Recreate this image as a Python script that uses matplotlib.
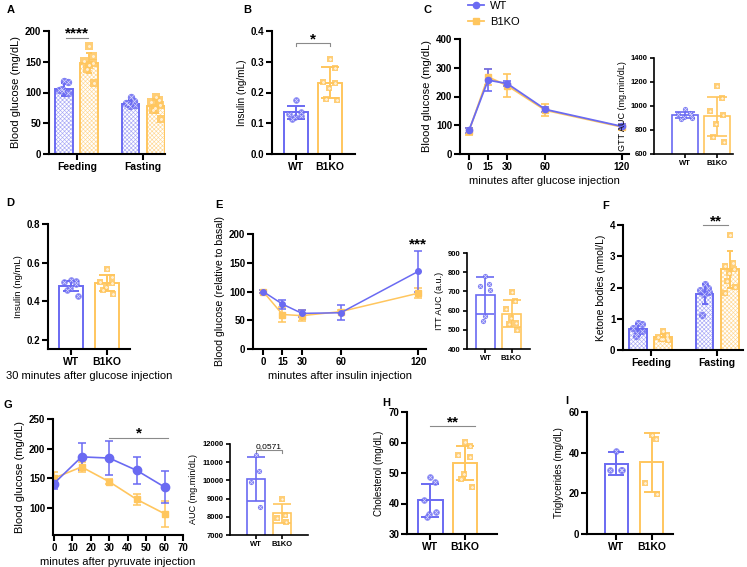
import numpy as np
import matplotlib.pyplot as plt
from matplotlib.lines import Line2D

plt.rcParams['font.family'] = ['Liberation Sans', 'DejaVu Sans']
plt.rcParams['font.weight'] = 'bold'
plt.rcParams['hatch.linewidth'] = 0.45

W, H = 747, 567
BLUE = '#6a6af2'
ORANGE = '#ffc65e'
BLUE_L = '#a9a9f6'
ORANGE_L = '#ffd894'

# ---- data ----
# A: blood glucose, feeding / fasting
a_groups = ['Feeding', 'Fasting']
a_wt_mean = [105, 82]
a_wt_sd = [10, 5]
a_ko_mean = [148, 78]
a_ko_sd = [17, 11]
a_wt_pts = [[118, 117, 104, 100, 102, 106], [93, 86, 83, 80, 78, 81]]
a_ko_pts = [[175, 160, 152, 148, 145, 139, 116], [93, 88, 85, 80, 75, 71, 57]]

# B: insulin
b_wt_mean, b_wt_sd = 0.135, 0.02
b_ko_mean, b_ko_sd = 0.232, 0.05
b_wt_pts = [0.175, 0.135, 0.13, 0.125, 0.12, 0.115]
b_ko_pts = [0.31, 0.28, 0.235, 0.23, 0.215, 0.18, 0.175]

# C: GTT
c_t = [0, 15, 30, 60, 120]
c_wt = [82, 257, 245, 155, 96]
c_wt_err = [8, 37, 10, 8, 10]
c_ko = [79, 268, 238, 152, 94]
c_ko_err = [12, 28, 40, 21, 12]
c_auc_wt_mean, c_auc_wt_sd = 925, 28
c_auc_ko_mean, c_auc_ko_sd = 914, 165
c_auc_wt_pts = [975, 940, 935, 925, 905, 895, 900]
c_auc_ko_pts = [1163, 1066, 955, 922, 848, 745, 703]

# D: insulin 30 min after glucose
d_wt_mean, d_wt_sd = 0.478, 0.025
d_ko_mean, d_ko_sd = 0.494, 0.042
d_wt_pts = [0.51, 0.505, 0.50, 0.49, 0.47, 0.46, 0.425]
d_ko_pts = [0.565, 0.525, 0.50, 0.495, 0.475, 0.46, 0.44]

# E: ITT
e_t = [0, 15, 30, 60, 120]
e_wt = [100, 78, 62, 63, 135]
e_wt_err = [2, 8, 6, 13, 35]
e_ko = [100, 60, 58, 65, 97]
e_ko_err = [2, 13, 9, 3, 9]
e_auc_wt_mean, e_auc_wt_sd = 680, 97
e_auc_ko_mean, e_auc_ko_sd = 584, 72
e_auc_wt_pts = [778, 740, 730, 709, 574, 548]
e_auc_ko_pts = [697, 652, 610, 538, 561, 530, 497]

# F: ketone bodies
f_wt_mean = [0.66, 1.78]
f_wt_sd = [0.17, 0.32]
f_ko_mean = [0.42, 2.58]
f_ko_sd = [0.1, 0.58]
f_wt_pts = [[0.85, 0.82, 0.70, 0.62, 0.55, 0.45], [2.12, 1.97, 1.92, 1.85, 1.80, 1.12]]
f_ko_pts = [[0.62, 0.48, 0.42, 0.38, 0.36, 0.34, 0.32],
            [3.68, 2.79, 2.69, 2.60, 2.45, 2.22, 2.03, 1.81]]

# G: PTT
g_t = [0, 15, 30, 45, 60]
g_wt = [141, 186, 184, 163, 135]
g_wt_err = [10, 23, 28, 23, 27]
g_ko = [150, 169, 144, 114, 90]
g_ko_err = [10, 8, 4, 9, 22]
g_auc_wt_mean, g_auc_wt_sd = 10077, 1200
g_auc_ko_mean, g_auc_ko_sd = 8190, 530
g_auc_wt_pts = [11396, 10535, 9894, 8520]
g_auc_ko_pts = [8980, 8100, 7950, 7730]

# H: cholesterol, I: triglycerides
h_wt_mean, h_wt_sd = 41.0, 5.4
h_ko_mean, h_ko_sd = 53.2, 5.5
h_wt_pts = [48.8, 46.9, 41.0, 37.3, 36.4, 35.6]
h_ko_pts = [60.1, 59.0, 55.9, 55.2, 49.6, 48.0, 45.3]
i_wt_mean, i_wt_sd = 34.5, 5.7
i_ko_mean, i_ko_sd = 35.2, 14.7
i_wt_pts = [41, 31.5, 31.5, 31.5]
i_ko_pts = [48.8, 46.7, 25.3, 19.7]

fig = plt.figure(figsize=(W / 100, H / 100), dpi=100)


def add_ax(l, t, r, b, small=False):
    ax = fig.add_axes([l / W, 1 - b / H, (r - l) / W, (b - t) / H])
    ax.spines[['top', 'right']].set_visible(False)
    lw = 1.2 if small else 1.5
    ax.spines[['left', 'bottom']].set_linewidth(lw)
    ax.tick_params(width=lw, length=3 if small else 4, labelsize=5.5 if small else 7, pad=1.5)
    return ax


def ylabel(ax, text, fs=8):
    ax.set_ylabel(text, fontsize=fs, fontweight='normal', labelpad=3)


def xlabel(ax, text):
    ax.set_xlabel(text, fontsize=8, fontweight='normal', labelpad=3)


def bar(ax, x, mean, sd, pts, color, light, width, hatch=False, marker='o', ms=22, lw=1.4):
    if hatch:
        ax.bar(x, mean, width, color='white', hatch='xxxxxxxx', edgecolor=light, linewidth=0, zorder=1)
    ax.bar(x, mean, width, facecolor='none', edgecolor=color, linewidth=lw, zorder=2)
    ax.errorbar(x, mean, yerr=sd, color=color, capsize=width * 9, capthick=lw, elinewidth=lw, zorder=3)
    n = len(pts)
    offs = width * 0.28 * np.sin(np.arange(n) * 2.4)
    ax.scatter(x + offs, pts, s=ms, marker=marker, color=color, alpha=0.85, linewidths=0, zorder=4, clip_on=False)
    inner = 'x' if marker == 'o' else '.'
    ax.scatter(x + offs, pts, s=ms * 0.35, marker=inner, color='white', linewidths=0.5, alpha=0.7, zorder=5, clip_on=False)


def sig(ax, x1, x2, y, text, h=0, fs=11, weight='bold', va='baseline'):
    ax.plot([x1, x1, x2, x2], [y - h, y, y, y - h], color='#8a8a8a', lw=0.8, clip_on=False)
    ax.text((x1 + x2) / 2, y, text, ha='center', va=va, fontsize=fs, fontweight=weight, clip_on=False)


def two_groups(ax, xlim, labels=('WT', 'B1KO'), small=False):
    ax.set_xlim(*xlim)
    ax.set_xticks([0, 1])
    ax.set_xticklabels(labels, fontsize=5.5 if small else 7.5)


# ---- A ----
ax = add_ax(49, 31, 165, 154)
for i in range(2):
    bar(ax, i - 0.19, a_wt_mean[i], a_wt_sd[i], a_wt_pts[i], BLUE, BLUE_L, 0.27, hatch=True, ms=28)
    bar(ax, i + 0.19, a_ko_mean[i], a_ko_sd[i], a_ko_pts[i], ORANGE, ORANGE_L, 0.27, hatch=True, marker='s', ms=26)
ax.set_ylim(0, 200)
ax.set_yticks([0, 50, 100, 150, 200])
ax.set_xlim(-0.42, 1.33)
ax.set_xticks([0, 1])
ax.set_xticklabels(a_groups, fontsize=7.5)
ylabel(ax, 'Blood glucose (mg/dL)')
sig(ax, -0.17, 0.17, 189, '****')

# ---- B ----
ax = add_ax(272, 31, 355, 154)
bar(ax, 0, b_wt_mean, b_wt_sd, b_wt_pts, BLUE, BLUE_L, 0.72)
bar(ax, 1, b_ko_mean, b_ko_sd, b_ko_pts, ORANGE, ORANGE_L, 0.72, marker='s')
ax.set_ylim(0, 0.4)
ax.set_yticks([0, 0.1, 0.2, 0.3, 0.4])
ax.set_yticklabels(['0.0', '0.1', '0.2', '0.3', '0.4'])
two_groups(ax, (-0.71, 1.74))
ylabel(ax, 'Insulin (ng/mL)', 7.2)
sig(ax, 0, 1, 0.361, '*', h=0.01)

# ---- C ----
ax = add_ax(460, 39, 629, 154)
ax.errorbar(c_t, c_ko, yerr=c_ko_err, color=ORANGE, marker='s', ms=4.5, lw=1.3, capsize=3, capthick=1.2, elinewidth=1.2)
ax.errorbar(c_t, c_wt, yerr=c_wt_err, color=BLUE, marker='o', ms=4.5, lw=1.3, capsize=3, capthick=1.2, elinewidth=1.2)
ax.set_xlim(-7, 125.5)
ax.set_xticks(c_t)
ax.set_ylim(0, 400)
ax.set_yticks([0, 100, 200, 300, 400])
ylabel(ax, 'Blood glucose (mg/dL)')
xlabel(ax, 'minutes after glucose injection')

ax = add_ax(654, 58, 733, 154, small=True)
bar(ax, 0, c_auc_wt_mean, c_auc_wt_sd, c_auc_wt_pts, BLUE, BLUE_L, 0.8, ms=14, lw=1.2)
bar(ax, 1, c_auc_ko_mean, c_auc_ko_sd, c_auc_ko_pts, ORANGE, ORANGE_L, 0.8, marker='s', ms=14, lw=1.2)
ax.set_ylim(600, 1400)
ax.set_yticks([600, 800, 1000, 1200, 1400])
two_groups(ax, (-0.97, 1.5), small=True)
ylabel(ax, 'GTT AUC (mg.min/dL)', 6.5)

handles = [Line2D([], [], color=BLUE, marker='o', ms=4.5, lw=1.3),
           Line2D([], [], color=ORANGE, marker='s', ms=4.5, lw=1.3)]
fig.legend(handles, ['WT', 'B1KO'], loc='upper left', bbox_to_anchor=(458 / W, 1 + 9 / H),
           frameon=False, prop={'size': 8, 'weight': 'normal'}, handlelength=1.4,
           labelspacing=0.55, handletextpad=0.6)

# ---- D ----
ax = add_ax(48, 224, 130, 349)
bar(ax, 0, d_wt_mean, d_wt_sd, d_wt_pts, BLUE, BLUE_L, 0.67)
bar(ax, 1, d_ko_mean, d_ko_sd, d_ko_pts, ORANGE, ORANGE_L, 0.67, marker='s')
ax.set_ylim(0.153, 0.8)
ax.set_yticks([0.2, 0.4, 0.6, 0.8])
two_groups(ax, (-0.64, 1.64))
ylabel(ax, 'Insulin (ng/mL)', 6.8)
xlabel(ax, '30 minutes after glucose injection')

# ---- E ----
ax = add_ax(253, 234, 426, 349)
ax.errorbar(e_t, e_ko, yerr=e_ko_err, color=ORANGE, marker='s', ms=4, lw=1.1, capsize=3, capthick=1.1, elinewidth=1.1)
ax.errorbar(e_t, e_wt, yerr=e_wt_err, color=BLUE, marker='o', ms=4, lw=1.1, capsize=3, capthick=1.1, elinewidth=1.1)
ax.set_xlim(-7.8, 126)
ax.set_xticks(e_t)
ax.set_ylim(0, 200)
ax.set_yticks([0, 50, 100, 150, 200])
ylabel(ax, 'Blood glucose (relative to basal)', 7.6)
xlabel(ax, 'minutes after insulin injection')
ax.text(120, 174, '***', ha='center', va='baseline', fontsize=11, fontweight='bold')

ax = add_ax(467, 253, 530, 349, small=True)
bar(ax, 0, e_auc_wt_mean, e_auc_wt_sd, e_auc_wt_pts, BLUE, BLUE_L, 0.73, ms=14, lw=1.2)
bar(ax, 1, e_auc_ko_mean, e_auc_ko_sd, e_auc_ko_pts, ORANGE, ORANGE_L, 0.73, marker='s', ms=14, lw=1.2)
ax.set_ylim(400, 900)
ax.set_yticks([400, 500, 600, 700, 800, 900])
two_groups(ax, (-0.71, 1.71), small=True)
ylabel(ax, 'ITT AUC (a.u.)', 6.5)

# ---- F ----
ax = add_ax(623, 225, 743, 350)
for i in range(2):
    bar(ax, i - 0.19, f_wt_mean[i], f_wt_sd[i], f_wt_pts[i], BLUE, BLUE_L, 0.27, hatch=True, ms=26)
    bar(ax, i + 0.19, f_ko_mean[i], f_ko_sd[i], f_ko_pts[i], ORANGE, ORANGE_L, 0.27, hatch=True, marker='s', ms=24)
ax.set_ylim(0, 4)
ax.set_yticks([0, 1, 2, 3, 4])
ax.set_xlim(-0.42, 1.39)
ax.set_xticks([0, 1])
ax.set_xticklabels(a_groups, fontsize=7.5)
ylabel(ax, 'Ketone bodies (nmol/L)', 7.4)
sig(ax, 0.79, 1.17, 4.0, '**')

# ---- G ----
ax = add_ax(53, 419, 183, 535)
ax.errorbar(g_t, g_ko, yerr=g_ko_err, color=ORANGE, marker='s', ms=5, lw=1.2, capsize=3, capthick=1.1, elinewidth=1.1)
ax.errorbar(g_t, g_wt, yerr=g_wt_err, color=BLUE, marker='o', ms=6, lw=1.2, capsize=3, capthick=1.1, elinewidth=1.1)
ax.set_xlim(-0.5, 70)
ax.set_xticks(np.arange(0, 71, 10))
ax.set_ylim(54, 250)
ax.set_yticks([100, 150, 200, 250])
ylabel(ax, 'Blood glucose (mg/dL)')
xlabel(ax, 'minutes after pyruvate injection')
sig(ax, 30, 62, 218, '*')

ax = add_ax(230, 444, 308, 535, small=True)
bar(ax, 0, g_auc_wt_mean, g_auc_wt_sd, g_auc_wt_pts, BLUE, BLUE_L, 0.7, ms=14, lw=1.2)
bar(ax, 1, g_auc_ko_mean, g_auc_ko_sd, g_auc_ko_pts, ORANGE, ORANGE_L, 0.7, marker='s', ms=14, lw=1.2)
ax.set_ylim(7000, 12000)
ax.set_yticks(np.arange(7000, 12001, 1000))
two_groups(ax, (-1, 2), small=True)
ylabel(ax, 'AUC (mg.min/dL)', 6.5)
sig(ax, 0, 1, 11670, '0,0571', h=160, fs=6, weight='normal', va='bottom')

# ---- H ----
ax = add_ax(407, 412, 497, 534)
bar(ax, 0, h_wt_mean, h_wt_sd, h_wt_pts, BLUE, BLUE_L, 0.72)
bar(ax, 1, h_ko_mean, h_ko_sd, h_ko_pts, ORANGE, ORANGE_L, 0.72, marker='s')
ax.set_ylim(30, 70)
ax.set_yticks([30, 40, 50, 60, 70])
two_groups(ax, (-0.68, 1.93))
ylabel(ax, 'Cholesterol (mg/dL)', 7)
sig(ax, 0, 1.3, 65.4, '**')

# ---- I ----
ax = add_ax(587, 412, 673, 534)
bar(ax, 0, i_wt_mean, i_wt_sd, i_wt_pts, BLUE, BLUE_L, 0.66)
bar(ax, 1, i_ko_mean, i_ko_sd, i_ko_pts, ORANGE, ORANGE_L, 0.66, marker='s')
ax.set_ylim(0, 60)
ax.set_yticks([0, 20, 40, 60])
two_groups(ax, (-0.84, 1.61))
ylabel(ax, 'Triglycerides (mg/dL)', 7)

# panel letters
for lab, x, y in [('A', 7, 10), ('B', 243, 10), ('C', 423, 10), ('D', 6, 203), ('E', 215, 205),
                  ('F', 602, 206), ('G', 4, 405), ('H', 382, 403), ('I', 565, 401)]:
    fig.text(x / W, 1 - y / H, lab, fontsize=8, fontweight='bold', va='center', ha='left')

fig.savefig('out.png', dpi=100)
